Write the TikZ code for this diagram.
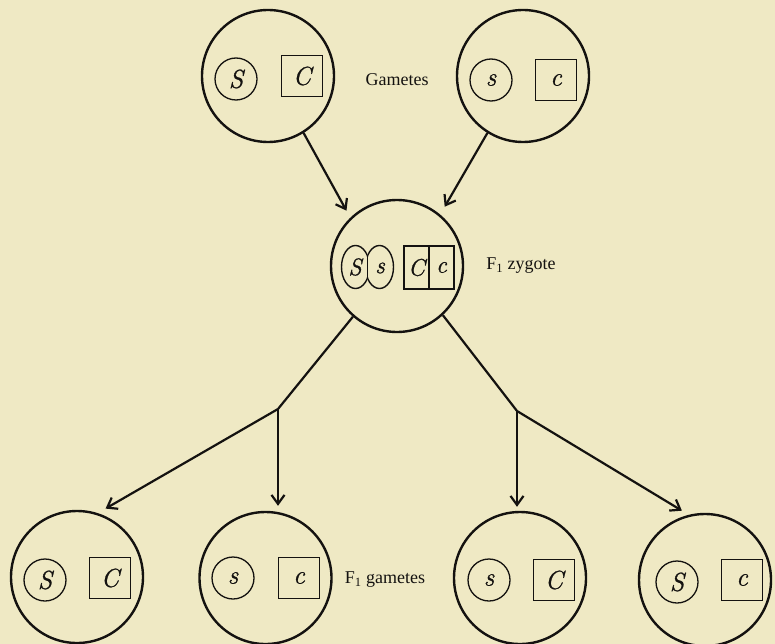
\documentclass[tikz,border=0pt]{standalone}
\usepackage{fontspec}
\setmainfont{Liberation Serif}
\newfontfamily\genefont{Latin Modern Roman}[FakeBold=0.9]
\usetikzlibrary{arrows.meta}
\definecolor{paper}{RGB}{239,233,196}
\definecolor{ink}{RGB}{20,18,16}
\tikzset{
  cell/.style={circle, draw=ink, line width=2.4pt, minimum size=132pt, inner sep=0pt},
  gene/.style={circle, draw=ink, line width=1.3pt, minimum size=42pt, inner sep=0pt,
    text=ink, font=\fontsize{26}{28}\selectfont\genefont\itshape},
  genebox/.style={rectangle, draw=ink, line width=1.3pt, minimum size=41pt, inner sep=0pt,
    text=ink, font=\fontsize{26}{28}\selectfont\genefont\itshape},
  halfbox/.style={rectangle, draw=ink, line width=1.3pt, minimum width=25pt, minimum height=43pt,
    inner sep=0pt, text=ink, font=\fontsize{24}{26}\selectfont\genefont\itshape},
  letter/.style={inner sep=0pt, text=ink, font=\fontsize{24}{26}\selectfont\genefont\itshape},
  lbl/.style={inner sep=0pt, text=ink, font=\fontsize{18}{21}\selectfont},
  link/.style={draw=ink, line width=2.2pt},
  arr/.style={link, -{Straight Barb[length=9pt,width=13pt,line width=2.2pt]}}
}
\begin{document}
\begin{tikzpicture}[x=1pt, y=-1pt]
  \fill[paper] (0,0) rectangle (775,644);
  \useasboundingbox (0,0) rectangle (775,644);

  % parental gametes
  \node[cell] (tl) at (268,76) {};
  \node[gene] (tlS) at (236,79) {S};
  \node[genebox] (tlC) at (302,76) {C};
  \node[cell] (tr) at (523,76) {};
  \node[gene] (trs) at (491,80) {s};
  \node[genebox] (trc) at (556,80) {c};
  \node[lbl] (gam) at (397,80) {Gametes};

  % F1 zygote: the paired S/s body and the paired C/c boxes
  \node[cell] (m) at (397,266) {};
  \begin{scope}
    \clip (300,200) rectangle (367.5,330);
    \draw[ink, line width=1.4pt] (355.5,267) ellipse [x radius=14pt, y radius=21.5pt];
  \end{scope}
  \begin{scope}
    \clip (367.5,200) rectangle (420,330);
    \draw[ink, line width=1.4pt] (379.5,267) ellipse [x radius=14pt, y radius=21.5pt];
  \end{scope}
  \draw[ink, line width=1.3pt] (367.5,254.6) -- (367.5,279.4);
  \node[letter] (mS) at (355,267) {S};
  \node[letter] (ms) at (380,268) {s};
  \node[halfbox] (mC) at (416.5,267.5) {C};
  \node[halfbox] (mc) at (441.5,267.5) {c};
  \node[lbl] (zyg) at (521,266) {F\textsubscript{1} zygote};

  % F1 gametes
  \node[cell] (b1) at (77,577) {};
  \node[gene] (b1S) at (45,580) {S};
  \node[genebox] (b1C) at (110,578) {C};
  \node[cell] (b2) at (265.5,578) {};
  \node[gene] (b2s) at (233,578) {s};
  \node[genebox] (b2c) at (299,578) {c};
  \node[cell] (b3) at (520,578) {};
  \node[gene] (b3s) at (489,580) {s};
  \node[genebox] (b3C) at (554,580) {C};
  \node[cell] (b4) at (705,580) {};
  \node[gene] (b4S) at (677,582) {S};
  \node[genebox] (b4c) at (742,580) {c};
  \node[lbl] (fgam) at (385,580) {F\textsubscript{1} gametes};

  % fertilisation
  \draw[arr, shorten >=8pt] (tl.-58) -- (m.134);
  \draw[arr, shorten >=9pt] (tr.-122) -- (m.50);

  % segregation
  \coordinate (jl) at (278,409);
  \coordinate (jr) at (517,411);
  \draw[link] (m.-131) -- (jl);
  \draw[link] (m.-47) -- (jr);
  \draw[arr, shorten >=9pt] (jl) -- (b1.72);
  \draw[arr, shorten >=5pt] (jl) -- (jl |- b2.north);
  \draw[arr, shorten >=4pt] (jr) -- (jr |- b3.north);
  \draw[arr, shorten >=8pt] (jr) -- (b4.104);
\end{tikzpicture}
\end{document}
